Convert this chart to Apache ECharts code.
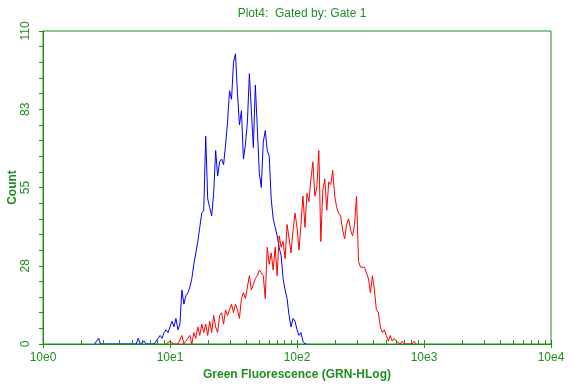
<!DOCTYPE html>
<html>
<head>
<meta charset="utf-8">
<script src="https://cdn.jsdelivr.net/npm/echarts@6/dist/echarts.min.js"></script>
<style>
html,body{margin:0;padding:0;background:#fff;}
#chart{width:573px;height:384px;}
</style>
</head>
<body>
<div id="chart"></div>
<script>
// Histogram channels: 256 channels over 4 decades (64 per decade)
var channelsPerDecade = 64;
var blueStart = 26;
var blueCounts = [0,0,2,0,0,0,0,0,0,0,0,0,0,0,0,0,0,0,0,0,0,0,2,0,0,1,0,0,0,0,0,
  1,2,3,2,4,5,4,6,8,6,9,5,7,19,14,17,18,20,23,28,28,36,41,46,47,73,51,48,45,53,
  68,59,64,65,63,70,78,89,86,99,102,88,77,82,65,70,78,95,82,69,91,76,60,55,71,75,
  68,66,51,44,41,38,34,31,23,19,16,10,6,9,8,5,3,4,1,0,0];
var redStart = 62;
var redCounts = [0,0,1,1,0,0,0,0,3,0,1,1,3,0,4,2,6,3,7,4,7,3,8,4,10,6,4,10,11,7,
  12,10,12,14,11,14,12,9,16,18,16,20,24,19,21,23,24,26,25,24,16,34,28,32,26,34,24,
  38,34,36,30,42,37,32,40,46,41,33,42,52,41,53,50,58,64,52,55,68,36,54,58,47,57,56,
  61,52,48,46,45,40,37,42,44,40,38,42,52,29,27,27,27,27,23,18,24,19,12,11,6,4,5,3,
  1,3,1,2,1,1,0,1,0,0,0,0,0,1,0];
var xTickLabels = ['10e0','10e1','10e2','10e3','10e4'];
var yMax = 110;
var yStep = 27.5;

var green = '#1f8f1f';

function toSeries(start, counts) {
  var out = [];
  for (var k = 0; k < counts.length; k++) {
    out.push([Math.pow(10, (start + k) / channelsPerDecade), counts[k]]);
  }
  return out;
}
var minorVals = [];
for (var d = 1; d < 10000; d *= 10) {
  for (var m = 1; m <= 9; m++) minorVals.push(m * d);
}
minorVals.push(10000);

var chart = echarts.init(document.getElementById('chart'));
chart.setOption({
  animation: false,
  backgroundColor: '#ffffff',
  title: {
    text: 'Plot4:  Gated by: Gate 1',
    left: 297, top: 3, textAlign: 'center',
    textStyle: {color: green, fontSize: 12, fontWeight: 'normal', fontFamily: 'Liberation Sans, Arial, sans-serif'}
  },
  grid: {left: 43, right: 22, top: 31, bottom: 40, containLabel: false, outerBoundsMode: 'none',
    show: true, borderColor: green, borderWidth: 1, backgroundColor: 'transparent'},
  xAxis: [{
    type: 'log', logBase: 10, min: 1, max: 10000, position: 'bottom', z: 10,
    axisLine: {lineStyle: {color: green, width: 1}},
    axisTick: {show: true, inside: false, length: 4, lineStyle: {color: green}},
    minorTick: {show: false},
    splitLine: {show: false},
    axisLabel: {color: green, fontSize: 12, margin: 8, fontFamily: 'Liberation Sans, Arial, sans-serif',
      formatter: function (v) { return xTickLabels[Math.round(Math.log10(v))]; }},
    name: 'Green Fluorescence (GRN-HLog)', nameLocation: 'middle', nameGap: 25, nameMoveOverlap: false,
    nameTextStyle: {color: green, fontSize: 12, fontWeight: 'bold', fontFamily: 'Liberation Sans, Arial, sans-serif'}
  }, {
    type: 'log', logBase: 10, min: 1, max: 10000, position: 'bottom', z: 10,
    axisLine: {show: false},
    axisTick: {show: true, inside: true, length: 4, customValues: minorVals, lineStyle: {color: green}},
    axisLabel: {show: false},
    splitLine: {show: false}
  }],
  yAxis: {
    type: 'value', min: 0, max: yMax, interval: yStep, z: 10,
    axisLine: {show: true, lineStyle: {color: green, width: 1}},
    axisTick: {show: true, inside: false, length: 4, lineStyle: {color: green}},
    minorTick: {show: true, splitNumber: 5, length: 4, lineStyle: {color: green}},
    splitLine: {show: false},
    axisLabel: {color: green, fontSize: 12, rotate: 90, margin: 11, fontFamily: 'Liberation Sans, Arial, sans-serif',
      formatter: function (v) { return String(Math.round(v)); }},
    name: 'Count', nameLocation: 'middle', nameGap: 24, nameRotate: 90, nameMoveOverlap: false,
    nameTextStyle: {color: green, fontSize: 12, fontWeight: 'bold', fontFamily: 'Liberation Sans, Arial, sans-serif'}
  },
  series: [{
    type: 'line', xAxisIndex: 0, data: toSeries(blueStart, blueCounts), showSymbol: false, z: 2,
    lineStyle: {color: '#0000ff', width: 1}, itemStyle: {color: '#0000ff'}
  }, {
    type: 'line', xAxisIndex: 0, data: toSeries(redStart, redCounts), showSymbol: false, z: 2,
    lineStyle: {color: '#ff0000', width: 1}, itemStyle: {color: '#ff0000'}
  }]
});
</script>
</body>
</html>
